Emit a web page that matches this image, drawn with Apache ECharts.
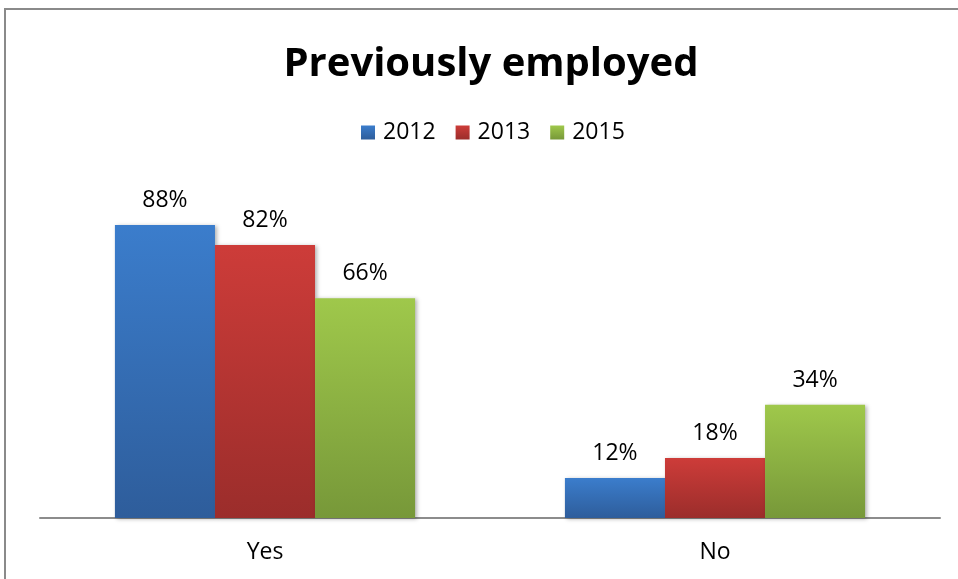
<!DOCTYPE html>
<html><head><meta charset="utf-8">
<script src="https://cdn.jsdelivr.net/npm/echarts@6/dist/echarts.min.js"></script>
<style>html,body{margin:0;padding:0;background:#fff}#c{width:958px;height:579px}</style>
</head><body><div id="c"></div>
<script>
const categories = ['Yes', 'No'];
const seriesNames = ['2012', '2013', '2015'];
const values2012 = [88, 12];
const values2013 = [82, 18];
const values2015 = [66, 34];

const FONT = '"Open Sans", "Noto Sans", sans-serif';
function grad(top, bottom) {
  return new echarts.graphic.LinearGradient(0, 0, 0, 1, [
    {offset: 0, color: top}, {offset: 1, color: bottom}
  ]);
}
const colors = [
  grad('#3b7dcc', '#2e5d9b'),
  grad('#cd3c39', '#9b2d2b'),
  grad('#9fc84b', '#779839')
];
const dataArr = [values2012, values2013, values2015];

const chart = echarts.init(document.getElementById('c'), null, {renderer: 'canvas'});
chart.setOption({
  backgroundColor: '#fff',
  animation: false,
  title: {
    text: 'Previously employed', left: 486, top: 40, textAlign: 'center',
    textStyle: {fontFamily: FONT, fontWeight: 'bold', fontSize: 40, color: '#000'}
  },
  legend: {
    data: seriesNames, left: 356, top: 116,
    itemWidth: 14, itemHeight: 14, itemGap: 20, icon: 'rect',
    textStyle: {fontFamily: FONT, fontSize: 23, color: '#000', padding: [0, 0, 0, 3]}
  },
  graphic: [{
    type: 'rect', silent: true,
    shape: {x: 5, y: 9, width: 1000, height: 700},
    style: {fill: null, stroke: '#8a8a8a', lineWidth: 2}
  }],
  grid: {left: 40, right: 18, top: 185, bottom: 61},
  xAxis: {
    type: 'category', data: categories,
    axisLine: {lineStyle: {color: '#8c8c8c', width: 2}},
    axisTick: {show: false},
    axisLabel: {fontFamily: FONT, fontSize: 23, color: '#000', margin: 23}
  },
  yAxis: {type: 'value', min: 0, max: 100, show: false, splitLine: {show: false}},
  series: seriesNames.map((n, i) => ({
    name: n, type: 'bar', data: dataArr[i],
    barGap: '0%', barCategoryGap: '33.3%',
    itemStyle: {color: colors[i], shadowColor: 'rgba(0,0,0,0.3)', shadowBlur: 4, shadowOffsetX: 2, shadowOffsetY: 1},
    label: {show: true, position: 'top', distance: 13, formatter: '{c}%',
      fontFamily: FONT, fontSize: 23, color: '#000'}
  }))
});
</script></body></html>
